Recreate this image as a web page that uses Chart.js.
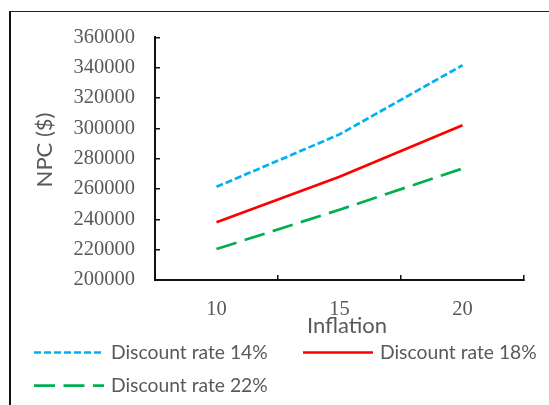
<!DOCTYPE html>
<html>
<head>
<meta charset="utf-8">
<script src="https://cdn.jsdelivr.net/npm/chart.js@4/dist/chart.umd.min.js"></script>
<style>
  html, body { margin: 0; padding: 0; background: #fff; overflow: hidden; }
  #wrap { position: relative; width: 549px; height: 405px; }
  #frame { position: absolute; left: 9px; top: 11px; width: 620px; height: 480px;
           border-left: 2.5px solid #111; border-top: 1.5px solid #222; box-sizing: border-box; }
  canvas { position: absolute; left: 0; top: 0; }
</style>
</head>
<body>
<div id="wrap">
  <div id="frame"></div>
  <canvas id="c" width="549" height="405"></canvas>
</div>
<script>
// Inflation levels on the x axis
const inflation = ['10', '15', '20'];
// Net present cost for each discount rate
const npc14 = [261400, 296000, 341600];
const npc18 = [238000, 268000, 302000];
const npc22 = [220400, 246300, 273500];
const seriesNames = ['Discount rate 14%', 'Discount rate 18%', 'Discount rate 22%'];
// Axis titles
const xTitle = 'Inflation';
const yTitle = 'NPC ($)';
// Y axis range
const yMin = 200000, yMax = 360000, yStep = 20000;

const grey = '#595959';

// Axis titles and a two-row legend drawn under the plot
const decorations = {
  id: 'decorations',
  afterDraw(chart) {
    const ctx = chart.ctx;
    ctx.save();
    ctx.fillStyle = grey;
    ctx.textAlign = 'center';
    ctx.textBaseline = 'middle';
    ctx.font = '22px Lato';
    ctx.fillText(xTitle, 347, 326);
    ctx.save();
    ctx.translate(45, 150);
    ctx.rotate(-Math.PI / 2);
    ctx.fillText(yTitle, 0, 0);
    ctx.restore();

    const spots = [[34, 352.5], [303, 352.5], [34, 385.7]];
    ctx.font = '19.3px Lato';
    ctx.textAlign = 'left';
    chart.data.datasets.forEach((ds, i) => {
      const [x, y] = spots[i];
      ctx.beginPath();
      ctx.setLineDash(ds.borderDash || []);
      ctx.lineWidth = ds.borderWidth;
      ctx.strokeStyle = ds.borderColor;
      ctx.lineCap = 'butt';
      ctx.moveTo(x, y);
      ctx.lineTo(x + 70, y);
      ctx.stroke();
      ctx.setLineDash([]);
      ctx.fillStyle = grey;
      ctx.fillText(ds.label, x + 77, y);
    });
    ctx.restore();
  }
};

new Chart(document.getElementById('c'), {
  type: 'line',
  data: {
    labels: inflation,
    datasets: [
      { label: seriesNames[0], data: npc14, borderColor: '#00B0F0', borderWidth: 2.7, borderDash: [7, 3], pointRadius: 0, tension: 0, fill: false },
      { label: seriesNames[1], data: npc18, borderColor: '#FF0000', borderWidth: 2.7, pointRadius: 0, tension: 0, fill: false },
      { label: seriesNames[2], data: npc22, borderColor: '#00B050', borderWidth: 2.7, borderDash: [21, 8.5], pointRadius: 0, tension: 0, fill: false }
    ]
  },
  options: {
    responsive: false,
    animation: false,
    layout: { padding: { left: 0, right: 25, top: 37, bottom: 65 } },
    plugins: { legend: { display: false }, tooltip: { enabled: false } },
    scales: {
      x: {
        type: 'category',
        offset: true,
        grid: { offset: true, drawOnChartArea: false, drawTicks: true, tickLength: -5, color: '#111', lineWidth: 1.5 },
        border: { display: true, color: '#111', width: 2 },
        ticks: { color: grey, font: { family: 'Liberation Serif', size: 20.5 }, padding: 22, maxRotation: 0 },
        afterFit(scale) { scale.height = 60; }
      },
      y: {
        min: yMin, max: yMax,
        grid: { drawOnChartArea: false, drawTicks: true, tickLength: -5, color: '#111', lineWidth: 1.5 },
        border: { display: true, color: '#111', width: 2 },
        ticks: { stepSize: yStep, color: grey, font: { family: 'Liberation Serif', size: 20.5 }, padding: 25,
                 callback: v => String(v) },
        afterFit(scale) { scale.width = 155; }
      }
    }
  },
  plugins: [decorations]
});
</script>
</body>
</html>
